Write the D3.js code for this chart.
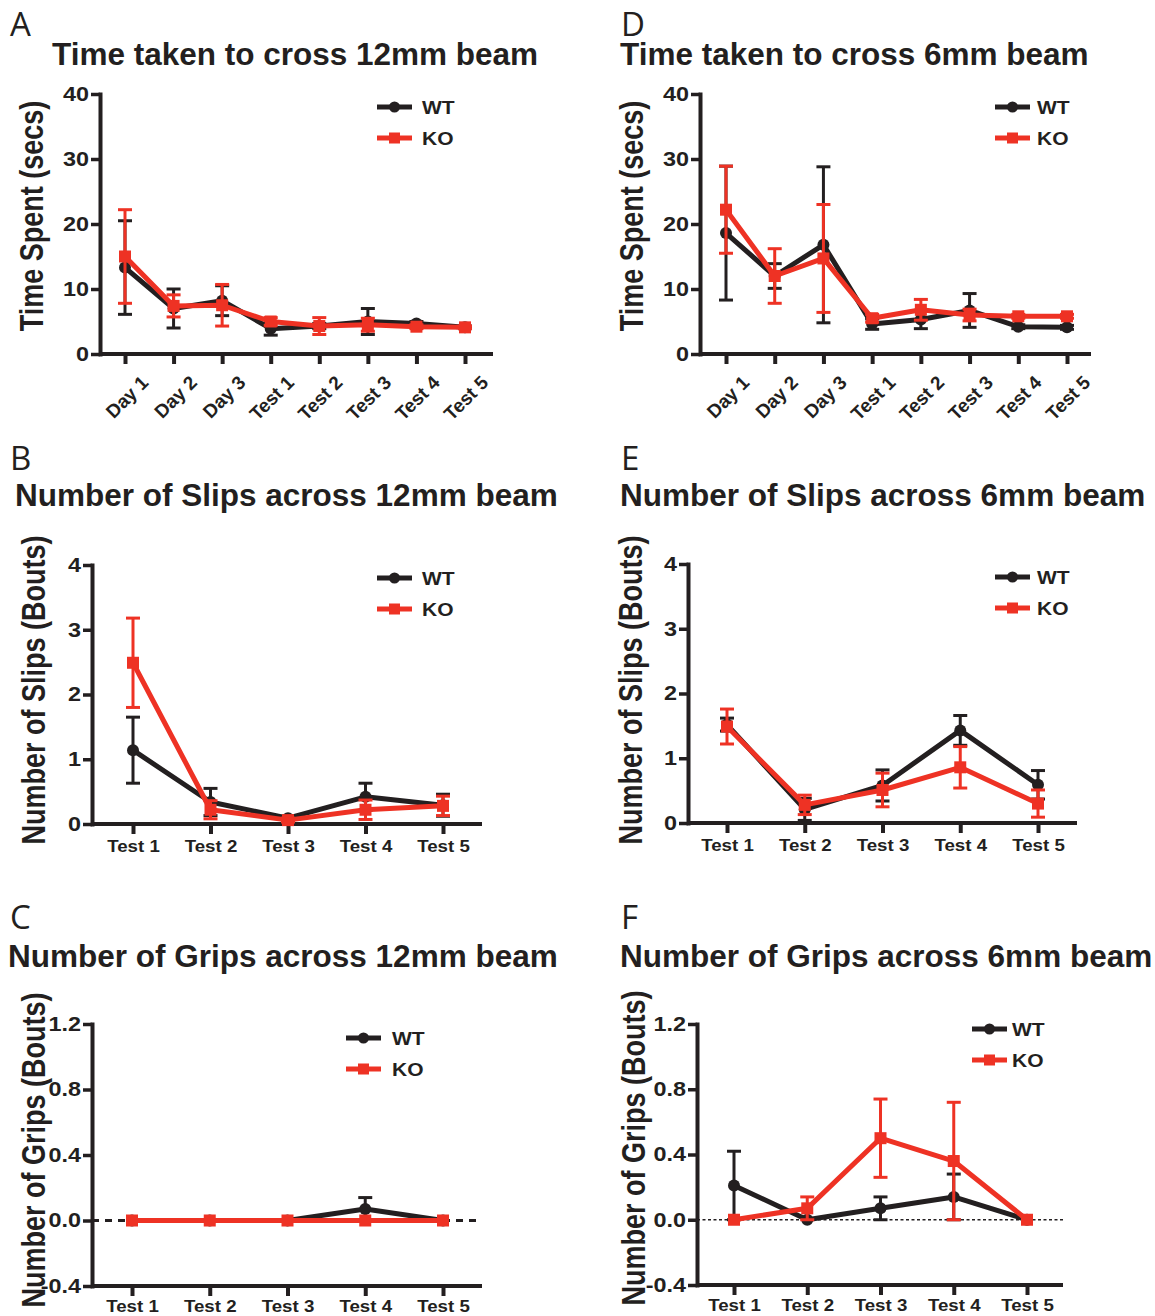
<!DOCTYPE html>
<html>
<head>
<meta charset="utf-8">
<script src="https://cdn.jsdelivr.net/npm/d3@7"></script>
<style>
  body { margin: 0; background: #fff; }
  svg { display: block; font-family: "Liberation Sans", Arial, sans-serif; }
</style>
</head>
<body>
<svg id="fig" width="1155" height="1316"></svg>
<script>
// categories
var dayCats = ["Day 1", "Day 2", "Day 3", "Test 1", "Test 2", "Test 3", "Test 4", "Test 5"];
var testCats = ["Test 1", "Test 2", "Test 3", "Test 4", "Test 5"];

// A - time to cross 12mm beam (mean, sem)
var time12WT = [13.3, 7.0, 8.2, 3.9, 4.3, 5.0, 4.7, 4.1];
var time12WTsem = [7.2, 3.0, 2.3, 1.0, 0.4, 2.0, 0.3, 0.2];
var time12KO = [15.0, 7.4, 7.5, 5.0, 4.3, 4.5, 4.2, 4.1];
var time12KOsem = [7.2, 1.7, 3.2, 0.6, 1.3, 1.0, 0.3, 0.2];

// D - time to cross 6mm beam
var time6WT = [18.6, 12.0, 16.8, 4.6, 5.3, 6.7, 4.2, 4.1];
var time6WTsem = [10.3, 1.9, 12.0, 0.8, 1.4, 2.6, 0.3, 0.3];
var time6KO = [22.2, 12.0, 14.7, 5.5, 6.8, 6.0, 5.8, 5.8];
var time6KOsem = [6.7, 4.2, 8.3, 0.6, 1.6, 0.9, 0.3, 0.3];

// B - slips 12mm
var slips12WT = [1.14, 0.34, 0.09, 0.42, 0.29];
var slips12WTsem = [0.51, 0.21, 0.03, 0.21, 0.17];
var slips12KO = [2.49, 0.22, 0.06, 0.22, 0.28];
var slips12KOsem = [0.69, 0.14, 0.03, 0.15, 0.15];

// E - slips 6mm
var slips6WT = [1.52, 0.21, 0.58, 1.43, 0.59];
var slips6WTsem = [0.10, 0.17, 0.24, 0.23, 0.22];
var slips6KO = [1.49, 0.28, 0.51, 0.86, 0.30];
var slips6KOsem = [0.27, 0.15, 0.26, 0.32, 0.21];

// C - grips 12mm
var grips12WT = [0, 0, 0, 0.07, 0];
var grips12WTsem = [0, 0, 0, 0.07, 0];
var grips12KO = [0, 0, 0, 0, 0];
var grips12KOsem = [0, 0, 0, 0, 0];

// F - grips 6mm
var grips6WT = [0.21, 0, 0.07, 0.14, 0];
var grips6WTsem = [0.21, 0, 0.07, 0.14, 0];
var grips6KO = [0, 0.07, 0.50, 0.36, 0];
var grips6KOsem = [0, 0.07, 0.24, 0.36, 0];

var timeTicks = [0, 10, 20, 30, 40];
var slipTicks = [0, 1, 2, 3, 4];
var gripTicks = [-0.4, 0, 0.4, 0.8, 1.2];

var RED = "#ee3224", INK = "#231f20";
var STRETCH = 1.2; // plot text in the figure is a bit wider than plain Arial
var svg = d3.select("#fig");

var intFmt = d3.format("d");
var decFmt = function(v) { return d3.format(".1f")(v).replace("\u2212", "-"); };

var panels = [
  { letter: "A", lx: 10, ly: 36, title: "Time taken to cross 12mm beam", tx: 52, ty: 65,
    ylabel: "Time Spent (secs)", ylx: 33, yly: 216, cats: dayCats, rotate: true, labY: 38,
    x0: 100, x1: 493, px0: 125, px1: 465, yTop: 94, yBot: 354, yDomain: [0, 40], ticks: timeTicks, fmt: intFmt,
    wt: time12WT, wtSem: time12WTsem, ko: time12KO, koSem: time12KOsem, legX: 377, legY: 107, legT: 422 },
  { letter: "D", lx: 621, ly: 36, title: "Time taken to cross 6mm beam", tx: 620, ty: 65,
    ylabel: "Time Spent (secs)", ylx: 633, yly: 216, cats: dayCats, rotate: true, labY: 38,
    x0: 700, x1: 1091, px0: 726, px1: 1067, yTop: 94, yBot: 354, yDomain: [0, 40], ticks: timeTicks, fmt: intFmt,
    wt: time6WT, wtSem: time6WTsem, ko: time6KO, koSem: time6KOsem, legX: 995, legY: 107, legT: 1037 },
  { letter: "B", lx: 10, ly: 470, title: "Number of Slips across 12mm beam", tx: 15, ty: 506,
    ylabel: "Number of Slips (Bouts)", ylx: 35, yly: 690, cats: testCats, rotate: false, labY: 28,
    x0: 92, x1: 482, px0: 133, px1: 443, yTop: 565, yBot: 824, yDomain: [0, 4], ticks: slipTicks, fmt: intFmt,
    wt: slips12WT, wtSem: slips12WTsem, ko: slips12KO, koSem: slips12KOsem, legX: 377, legY: 578, legT: 422 },
  { letter: "E", lx: 621, ly: 470, title: "Number of Slips across 6mm beam", tx: 620, ty: 506,
    ylabel: "Number of Slips (Bouts)", ylx: 632, yly: 690, cats: testCats, rotate: false, labY: 28,
    x0: 688, x1: 1077, px0: 727, px1: 1038, yTop: 564, yBot: 823, yDomain: [0, 4], ticks: slipTicks, fmt: intFmt,
    wt: slips6WT, wtSem: slips6WTsem, ko: slips6KO, koSem: slips6KOsem, legX: 995, legY: 577, legT: 1037 },
  { letter: "C", lx: 10, ly: 929, title: "Number of Grips across 12mm beam", tx: 8, ty: 967,
    ylabel: "Number of Grips (Bouts)", ylx: 35, yly: 1150, cats: testCats, rotate: false, labY: 26,
    x0: 92, x1: 482, px0: 132, px1: 443, yTop: 1024, yBot: 1286, yDomain: [-0.4, 1.2], ticks: gripTicks, fmt: decFmt,
    wt: grips12WT, wtSem: grips12WTsem, ko: grips12KO, koSem: grips12KOsem, legX: 346, legY: 1038, legT: 392,
    zero: { w: 3, dash: "7,6" } },
  { letter: "F", lx: 621, ly: 929, title: "Number of Grips across 6mm beam", tx: 620, ty: 967,
    ylabel: "Number of Grips (Bouts)", ylx: 635, yly: 1148, cats: testCats, rotate: false, labY: 26,
    x0: 697, x1: 1063, px0: 734, px1: 1027, yTop: 1024, yBot: 1285, yDomain: [-0.4, 1.2], ticks: gripTicks, fmt: decFmt,
    wt: grips6WT, wtSem: grips6WTsem, ko: grips6KO, koSem: grips6KOsem, legX: 972, legY: 1029, legT: 1012,
    zero: { w: 1.5, dash: "3,2.5" } }
];

function drawSeries(g, p, x, y, vals, sems, color, isSquare) {
  var line = d3.line()
    .x(function(d, i) { return x(p.cats[i]); })
    .y(function(d) { return y(d); });

  var idx = d3.range(vals.length).filter(function(i) { return sems[i] > 0; });
  var eb = g.append("g").attr("stroke", color).attr("stroke-width", 3).attr("fill", "none");
  idx.forEach(function(i) {
    var cx = x(p.cats[i]);
    var lo = y(vals[i] - sems[i]), hi = y(vals[i] + sems[i]);
    eb.append("line").attr("x1", cx).attr("x2", cx).attr("y1", lo).attr("y2", hi);
    eb.append("line").attr("x1", cx - 7).attr("x2", cx + 7).attr("y1", lo).attr("y2", lo);
    eb.append("line").attr("x1", cx - 7).attr("x2", cx + 7).attr("y1", hi).attr("y2", hi);
  });

  g.append("path")
    .datum(vals)
    .attr("d", line)
    .attr("fill", "none")
    .attr("stroke", color)
    .attr("stroke-width", 5)
    .attr("stroke-linejoin", "round");

  if (isSquare) {
    g.selectAll(null).data(vals).enter().append("rect")
      .attr("x", function(d, i) { return x(p.cats[i]) - 6; })
      .attr("y", function(d) { return y(d) - 6; })
      .attr("width", 12).attr("height", 12)
      .attr("fill", color);
  } else {
    g.selectAll(null).data(vals).enter().append("circle")
      .attr("cx", function(d, i) { return x(p.cats[i]); })
      .attr("cy", function(d) { return y(d); })
      .attr("r", 6)
      .attr("fill", color);
  }
}

function drawPanel(p) {
  var g = svg.append("g");

  g.append("text")
    .attr("x", p.lx).attr("y", p.ly)
    .attr("font-family", "'Open Sans', sans-serif")
    .attr("font-size", 33)
    .attr("fill", INK)
    .text(p.letter);

  g.append("text")
    .attr("x", p.tx).attr("y", p.ty)
    .attr("font-size", 31.5)
    .attr("font-weight", "bold")
    .attr("fill", INK)
    .text(p.title);

  g.append("text")
    .attr("transform", "translate(" + (p.ylx + 10) + "," + p.yly + ") scale(" + STRETCH + ",1) rotate(-90)")
    .attr("text-anchor", "middle")
    .attr("font-size", 27)
    .attr("font-weight", "bold")
    .attr("fill", INK)
    .text(p.ylabel);

  var x = d3.scalePoint().domain(p.cats).range([p.px0, p.px1]);
  var y = d3.scaleLinear().domain(p.yDomain).range([p.yBot, p.yTop]);

  if (p.zero) {
    g.append("line")
      .attr("x1", p.x0).attr("x2", p.x1)
      .attr("y1", y(0)).attr("y2", y(0))
      .attr("stroke", INK)
      .attr("stroke-width", p.zero.w)
      .attr("stroke-dasharray", p.zero.dash);
  }

  // x axis
  var xAxis = g.append("g")
    .attr("transform", "translate(0," + p.yBot + ")")
    .call(d3.axisBottom(x).tickSize(10).tickSizeOuter(0));
  xAxis.select(".domain").remove();
  xAxis.selectAll(".tick line").attr("stroke", INK).attr("stroke-width", 4);
  xAxis.selectAll(".tick text")
    .attr("font-family", "'Liberation Sans', Arial, sans-serif")
    .attr("font-weight", "bold")
    .attr("fill", INK);
  if (p.rotate) {
    xAxis.selectAll(".tick text")
      .attr("font-size", 19)
      .attr("text-anchor", "end")
      .attr("x", -4).attr("y", p.labY).attr("dy", 0)
      .attr("transform", "rotate(-45)");
  } else {
    xAxis.selectAll(".tick text")
      .attr("font-size", 17)
      .attr("y", p.labY).attr("dy", 0)
      .attr("transform", "scale(1.1,1)");
  }
  g.append("line")
    .attr("x1", p.x0).attr("x2", p.x1)
    .attr("y1", p.yBot).attr("y2", p.yBot)
    .attr("stroke", INK).attr("stroke-width", 4);

  // y axis
  var yAxis = g.append("g")
    .attr("transform", "translate(" + p.x0 + ",0)")
    .call(d3.axisLeft(y).tickValues(p.ticks).tickFormat(p.fmt).tickSize(9).tickSizeOuter(0).tickPadding(3));
  yAxis.select(".domain").attr("stroke", INK).attr("stroke-width", 4).attr("stroke-linecap", "square");
  yAxis.selectAll(".tick line").attr("stroke", INK).attr("stroke-width", 3.5);
  yAxis.selectAll(".tick text")
    .attr("font-family", "'Liberation Sans', Arial, sans-serif")
    .attr("font-size", 19.5)
    .attr("font-weight", "bold")
    .attr("fill", INK)
    .attr("x", -11 / STRETCH)
    .attr("transform", "scale(" + STRETCH + ",1)");

  drawSeries(g, p, x, y, p.wt, p.wtSem, INK, false);
  drawSeries(g, p, x, y, p.ko, p.koSem, RED, true);

  // legend
  var leg = [{ name: "WT", color: INK, sq: false }, { name: "KO", color: RED, sq: true }];
  leg.forEach(function(d, i) {
    var ly = p.legY + i * 31;
    g.append("line")
      .attr("x1", p.legX).attr("x2", p.legX + 35)
      .attr("y1", ly).attr("y2", ly)
      .attr("stroke", d.color).attr("stroke-width", 5);
    if (d.sq) {
      g.append("rect").attr("x", p.legX + 12).attr("y", ly - 5.5).attr("width", 11).attr("height", 11).attr("fill", d.color);
    } else {
      g.append("circle").attr("cx", p.legX + 17.5).attr("cy", ly).attr("r", 5.5).attr("fill", d.color);
    }
    g.append("text")
      .attr("transform", "translate(" + p.legT + "," + (ly + 6.5) + ") scale(" + STRETCH + ",1)")
      .attr("font-size", 17.5)
      .attr("font-weight", "bold")
      .attr("fill", INK)
      .text(d.name);
  });
}

panels.forEach(drawPanel);
</script>
</body>
</html>
